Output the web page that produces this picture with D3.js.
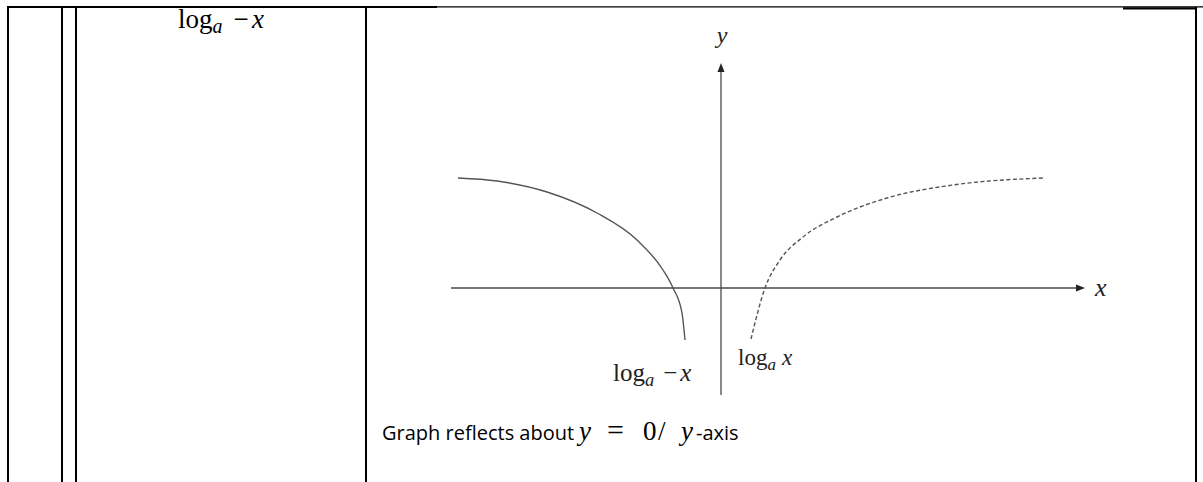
<!DOCTYPE html>
<html>
<head>
<meta charset="utf-8">
<script src="https://cdn.jsdelivr.net/npm/d3@7"></script>
<style>
  body { margin: 0; background: #fff; }
  svg { display: block; }
  .math { font-family: "Liberation Serif", "DejaVu Serif", serif; }
  .prose { font-family: "Open Sans", "Noto Sans", sans-serif; }
</style>
</head>
<body>
<div id="chart"></div>
<script>

// graph units: origin where the axes cross, y points up
const xExtent = [-27, 36.4];   // x axis from left end to arrow tip
const yExtent = [-10.7, 22.5]; // y axis from bottom end to arrow tip

// log_a -x, solid curve
const negLogX = [-26.3, -22.4, -17.4, -12.4, -8.4, -5.8, -4.8, -3.9, -3.6];
const negLogY = [11.0, 10.7, 9.6, 7.5, 4.8, 1.8, 0, -2.5, -5.2];

// log_a x, dotted curve
const logX = [3.0, 4.4, 5.9, 8.2, 11.6, 16.6, 23.2, 32.2];
const logY = [-5.1, 0, 2.8, 5.1, 7.1, 9.0, 10.3, 11.0];

// table column rules
const tableCols = [8, 62, 76, 366, 1196];

const W = 1203, H = 482;

const svg = d3.select("#chart").append("svg")
  .attr("width", W)
  .attr("height", H);

// ---- table frame ----
const frame = svg.append("g").attr("stroke", "#000").attr("fill", "none");

frame.append("line") // thin top rule
  .attr("x1", 7).attr("x2", 1203).attr("y1", 6.8).attr("y2", 6.8)
  .attr("stroke-width", 1.2);
frame.append("line") // thick left part
  .attr("x1", 7).attr("x2", 437).attr("y1", 7).attr("y2", 7)
  .attr("stroke-width", 2.2);
frame.append("line") // thick right part
  .attr("x1", 1123).attr("x2", 1197).attr("y1", 8.3).attr("y2", 8.3)
  .attr("stroke-width", 2.2);

frame.selectAll("line.col")
  .data(tableCols)
  .enter().append("line")
  .attr("class", "col")
  .attr("x1", d => d).attr("x2", d => d)
  .attr("y1", 7).attr("y2", H)
  .attr("stroke-width", 2);

// writes "log_a <arg>" with an italic subscript
function logLabel(sel, size, arg, gap) {
  sel.append("tspan").text("log");
  sel.append("tspan").attr("font-style", "italic")
    .attr("font-size", size * 0.74).attr("dy", size * 0.2).text("a");
  if (arg === "-x") {
    sel.append("tspan").attr("dy", -size * 0.2).attr("dx", gap).text("−");
    sel.append("tspan").attr("font-style", "italic").attr("dx", size * 0.12).text("x");
  } else {
    sel.append("tspan").attr("font-style", "italic").attr("dy", -size * 0.2).attr("dx", gap).text("x");
  }
}

// first cell heading
const head = svg.append("text")
  .attr("class", "math")
  .attr("x", 221).attr("y", 28)
  .attr("text-anchor", "middle")
  .attr("font-size", 27)
  .attr("fill", "#000");
logLabel(head, 27, "-x", 11);

// ---- graph ----
const x = d3.scaleLinear().domain(xExtent).range([451, 1085]);
const y = d3.scaleLinear().domain(yExtent).range([395, 63]);

const ink = "#4a4a4a";
const g = svg.append("g");

// axes
g.append("line")
  .attr("x1", x(xExtent[0])).attr("x2", x(xExtent[1]) - 6)
  .attr("y1", y(0)).attr("y2", y(0))
  .attr("stroke", ink).attr("stroke-width", 1.3);
g.append("line")
  .attr("x1", x(0)).attr("x2", x(0))
  .attr("y1", y(yExtent[0])).attr("y2", y(yExtent[1]) + 6)
  .attr("stroke", ink).attr("stroke-width", 1.3);

// arrowheads
const xt = x(xExtent[1]), yt = y(yExtent[1]);
g.append("path")
  .attr("d", `M${xt},${y(0)} L${xt - 9},${y(0) - 3.5} L${xt - 9},${y(0) + 3.5} Z`)
  .attr("fill", "#222");
g.append("path")
  .attr("d", `M${x(0)},${yt} L${x(0) - 3.5},${yt + 9} L${x(0) + 3.5},${yt + 9} Z`)
  .attr("fill", "#222");

const line = d3.line()
  .x(d => x(d[0]))
  .y(d => y(d[1]))
  .curve(d3.curveMonotoneX);

g.append("path")
  .datum(d3.zip(negLogX, negLogY))
  .attr("d", line)
  .attr("fill", "none")
  .attr("stroke", "#555")
  .attr("stroke-width", 1.4);

g.append("path")
  .datum(d3.zip(logX, logY))
  .attr("d", line)
  .attr("fill", "none")
  .attr("stroke", "#555")
  .attr("stroke-width", 1.4)
  .attr("stroke-dasharray", "4,2.5");

// axis letters
g.append("text").attr("class", "math")
  .attr("x", 722).attr("y", 43)
  .attr("text-anchor", "middle")
  .attr("font-size", 24).attr("font-style", "italic")
  .attr("fill", "#222")
  .text("y");
g.append("text").attr("class", "math")
  .attr("x", 1095).attr("y", 296)
  .attr("font-size", 26).attr("font-style", "italic")
  .attr("fill", "#222")
  .text("x");

// curve labels
const lblL = g.append("text").attr("class", "math")
  .attr("x", 613).attr("y", 381)
  .attr("font-size", 25).attr("fill", "#222");
logLabel(lblL, 25, "-x", 9);

const lblR = g.append("text").attr("class", "math")
  .attr("x", 738).attr("y", 365)
  .attr("font-size", 23).attr("fill", "#222");
logLabel(lblR, 23, "x", 6);

// caption
const cap = svg.append("text").attr("y", 440).attr("font-size", 20).attr("fill", "#000");
cap.append("tspan").attr("class", "prose").attr("x", 382).text("Graph reflects about");
cap.append("tspan").attr("class", "math").attr("x", 579).attr("font-style", "italic").attr("font-size", 27).text("y");
cap.append("tspan").attr("class", "math").attr("x", 607).attr("font-size", 30).text("=");
cap.append("tspan").attr("class", "math").attr("x", 643).attr("font-size", 27).text("0");
cap.append("tspan").attr("class", "math").attr("x", 658).attr("font-size", 27).text("/");
cap.append("tspan").attr("class", "math").attr("x", 681).attr("font-style", "italic").attr("font-size", 27).text("y");
cap.append("tspan").attr("class", "prose").attr("x", 696).text("-axis");

</script>
</body>
</html>
